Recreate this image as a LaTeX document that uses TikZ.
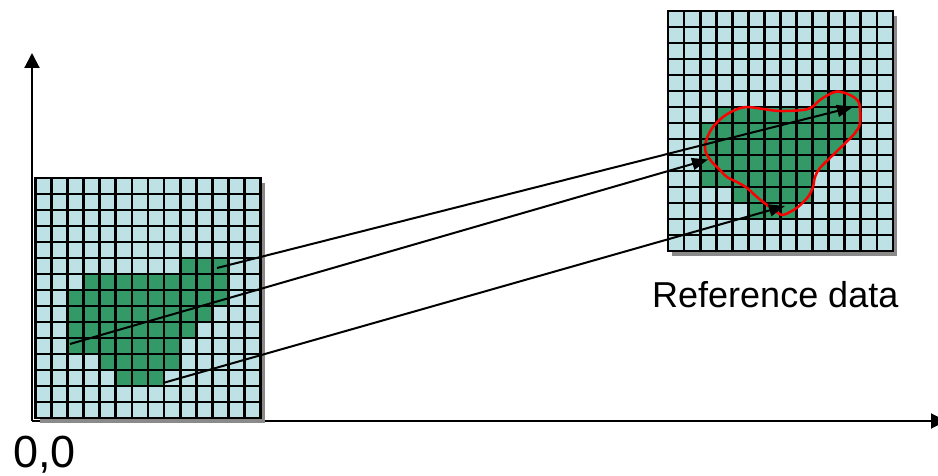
\documentclass[tikz,border=0pt]{standalone}
\usepackage{fontspec}
\setmainfont{Liberation Sans}
\usetikzlibrary{arrows.meta}
\definecolor{cellblue}{HTML}{BDE1E4}
\definecolor{cellgreen}{HTML}{339966}
\definecolor{shadowgray}{HTML}{8A8A8A}
\definecolor{outlinered}{HTML}{FF0000}

\tikzset{
  gridline/.style={line width=2.8pt, black},
  pointer/.style={line width=2pt, -{Triangle[length=16pt,width=12pt]}},
  axisline/.style={line width=2pt, -{Triangle[length=15pt,width=15pt]}},
  blobline/.style={line width=2.5pt, outlinered, smooth cycle, tension=0.55},
  % 14 x 15 raster of cells with a green region and a drop shadow
  pixgrid/.pic={
    \fill[shadowgray] (4,5) rectangle ++(225,240);
    \fill[cellblue] (0,0) rectangle (225,240);
    \foreach \r/\a/\b in {5/9/11,6/3/11,7/2/11,8/2/10,9/2/9,10/2/8,11/4/8,12/5/7}
      \fill[cellgreen] ({\a*225/14},{\r*16}) rectangle ({(\b+1)*225/14},{(\r+1)*16});
    \foreach \i in {1,...,13}
      \draw[gridline] ({\i*225/14},0) -- ({\i*225/14},240);
    \foreach \j in {1,...,14}
      \draw[gridline] (0,{\j*16}) -- (225,{\j*16});
    \draw[gridline] (0,0) rectangle (225,240);
  }
}

\begin{document}
\begin{tikzpicture}[x=1pt,y=-1pt]
\useasboundingbox (0,0) rectangle (938,476);

% axes
\coordinate (origin) at (32,421);
\coordinate (ytip) at (32,53);
\coordinate (xtip) at (946,421);
\draw[axisline] (origin) -- (ytip);
\draw[axisline] (origin) -- (xtip);

% image and reference rasters
\pic at (35.5,178) {pixgrid};
\pic at (668,11) {pixgrid};

% outline of the reference region
\draw[blobline] plot coordinates {
  (837,91.5) (850,95) (859,103) (860,123) (855,133) (846.7,141.7) (833,155)
  (820,168) (815,177) (813,187) (808,197) (798,207) (790,212) (783,215)
  (778,213) (767,205) (757,197) (747,188) (737,182) (727,177) (718,168)
  (712,162) (707,155) (705,148) (707,138) (713,127) (723,117) (735,110)
  (747,107) (763,109) (780,111) (803,110) (812,107) (820,100) (828,95)};

% correspondence arrows
\coordinate (s1) at (217,268);
\coordinate (s2) at (70,344);
\coordinate (s3) at (163,383);
\coordinate (t1) at (853,107);
\coordinate (t2) at (708,159.5);
\coordinate (t3) at (785,206);
\draw[pointer] (s1) -- (t1);
\draw[pointer] (s2) -- (t2);
\draw[pointer] (s3) -- (t3);

% labels
\node[anchor=base west, inner sep=0pt, font=\fontsize{36}{40}\selectfont] (reflabel) at (652,307) {Reference data};
\node[anchor=base west, inner sep=0pt, font=\fontsize{45}{50}\selectfont] (originlabel) at (13,467) {0,0};
\end{tikzpicture}
\end{document}
